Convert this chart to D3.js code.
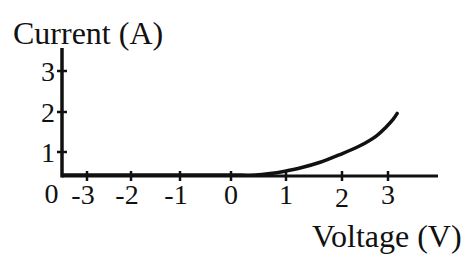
<!DOCTYPE html>
<html>
<head>
<meta charset="utf-8">
<script src="https://cdn.jsdelivr.net/npm/d3@7"></script>
<style>
  body { margin: 0; background: #fff; }
  text { font-family: "Liberation Serif", "Times New Roman", serif; fill: #111; }
</style>
</head>
<body>
<div class="chart"></div>
<script>
// tick values on each axis
const xTicks = [-3, -2, -1, 0, 1, 2, 3];
const yTicks = [1, 2, 3];

// I-V curve
const voltage = [-3.55, 0, 0.44, 0.71, 0.98, 1.25, 1.61, 1.95, 2.39, 2.75, 2.95, 3.11, 3.2];
const current = [0, 0, 0, 0.06, 0.16, 0.29, 0.53, 0.84, 1.13, 1.38, 1.59, 1.79, 1.94];

const width = 474, height = 271;

const svg = d3.select(".chart")
    .append("svg")
    .attr("width", width)
    .attr("height", height);

// the drawing is hand made, tick spacing is uneven -> piecewise scales
const x = d3.scaleLinear()
    .domain([-3, -2, -1, 0, 1, 2, 3])
    .range([87, 131, 180, 231, 286, 342, 388]);
const y = d3.scaleLinear()
    .domain([0, 1, 2, 3])
    .range([176, 152, 112, 71]);

const originX = 62, axisY = y(0);

// axes lines
svg.append("line")
    .attr("x1", originX).attr("x2", originX)
    .attr("y1", 48).attr("y2", axisY + 1.5)
    .attr("stroke", "#111").attr("stroke-width", 3.5);
svg.append("line")
    .attr("x1", originX).attr("x2", 438)
    .attr("y1", axisY).attr("y2", axisY)
    .attr("stroke", "#111").attr("stroke-width", 3);

// x ticks
svg.selectAll(".xtick")
    .data(xTicks)
    .enter().append("line")
    .attr("class", "xtick")
    .attr("x1", d => x(d)).attr("x2", d => x(d))
    .attr("y1", axisY - 5).attr("y2", axisY + 5)
    .attr("stroke", "#111").attr("stroke-width", 2.5);

svg.selectAll(".xlabel")
    .data(xTicks)
    .enter().append("text")
    .attr("class", "xlabel")
    .attr("x", d => x(d) + (d < 0 ? -4 : 0))
    .attr("y", d => d === 2 ? 207 : 204)
    .attr("text-anchor", "middle")
    .style("font-size", "28px")
    .text(d => d < 0 ? "-" + Math.abs(d) : d);

// y ticks
svg.selectAll(".ytick")
    .data(yTicks)
    .enter().append("line")
    .attr("class", "ytick")
    .attr("x1", originX - 5).attr("x2", originX + 5)
    .attr("y1", d => y(d)).attr("y2", d => y(d))
    .attr("stroke", "#111").attr("stroke-width", 2.5);

svg.selectAll(".ylabel")
    .data(yTicks)
    .enter().append("text")
    .attr("class", "ylabel")
    .attr("x", originX - 7)
    .attr("y", d => y(d))
    .attr("dy", "0.34em")
    .attr("text-anchor", "end")
    .style("font-size", "28px")
    .text(d => d);

// origin label
svg.append("text")
    .attr("x", 51.5).attr("y", 203)
    .attr("text-anchor", "middle")
    .style("font-size", "28px")
    .text("0");

// curve
const pts = voltage.map((v, i) => [x(v), y(current[i]) - 1]);
const line = d3.line().curve(d3.curveCatmullRom.alpha(0.5));
svg.append("path")
    .attr("d", line(pts))
    .attr("fill", "none")
    .attr("stroke", "#111")
    .attr("stroke-width", 3.5)
    .attr("stroke-linecap", "round");

// axis titles
svg.append("text")
    .attr("x", 13).attr("y", 44)
    .style("font-size", "32px")
    .text("Current (A)");
svg.append("text")
    .attr("x", 312).attr("y", 247)
    .style("font-size", "32px")
    .text("Voltage (V)");
</script>
</body>
</html>
